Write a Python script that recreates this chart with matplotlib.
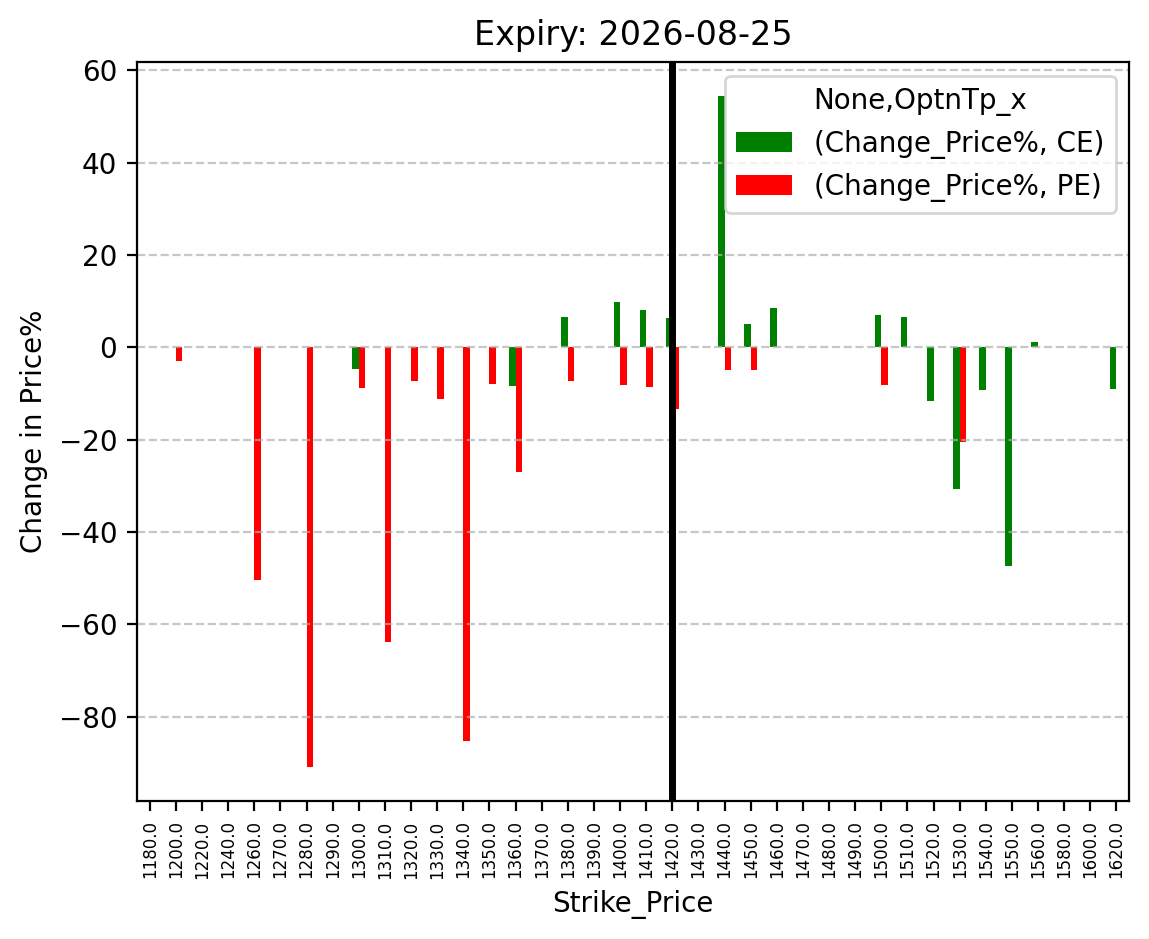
import numpy as np
import matplotlib
matplotlib.use("Agg")
import matplotlib.pyplot as plt

# strike prices (categories)
strikes = [1180, 1200, 1220, 1240, 1260, 1270, 1280, 1290, 1300, 1310,
           1320, 1330, 1340, 1350, 1360, 1370, 1380, 1390, 1400, 1410,
           1420, 1430, 1440, 1450, 1460, 1470, 1480, 1490, 1500, 1510,
           1520, 1530, 1540, 1550, 1560, 1580, 1600, 1620]

# Change_Price% for CE (calls)
ce_change = [0, 0, 0, 0, 0, 0, 0, 0, -4.8, 0,
             0, 0, 0, 0, -8.4, 0, 6.5, 0, 9.7, 8.0,
             6.3, 0, 54.5, 5.0, 8.4, 0, 0, 0, 6.9, 6.5,
             -11.7, -30.7, -9.3, -47.4, 1.1, 0, 0, -9.1]

# Change_Price% for PE (puts)
pe_change = [0, -3.0, 0, 0, -50.5, 0, -91.0, 0, -8.9, -63.9,
             -7.3, -11.3, -85.3, -8.0, -27.0, 0, -7.4, 0, -8.2, -8.7,
             -13.4, 0, -5.0, -5.0, 0, 0, 0, 0, -8.2, 0,
             0, -20.6, 0, 0, 0, 0, 0, 0]

spot_index = strikes.index(1420)

fig = plt.figure(figsize=(5.745, 4.695), dpi=200)
ax = fig.add_axes([0.119, 0.147, 0.864, 0.787])

x = np.arange(len(strikes))
w = 0.25
ax.bar(x - w / 2, ce_change, width=w, color="green", label="(Change_Price%, CE)")
ax.bar(x + w / 2, pe_change, width=w, color="red", label="(Change_Price%, PE)")
ax.set_xlim(-0.5, len(strikes) - 0.5)

ax.set_xticks(x)
ax.set_xticklabels([f"{s:.1f}" for s in strikes], rotation=90, fontsize=6)

ax.axvline(spot_index, color="black", linewidth=2.5)
ax.yaxis.grid(True, linestyle="--", alpha=0.7)

ax.set_title("Expiry: 2026-08-25")
ax.set_xlabel("Strike_Price")
ax.set_ylabel("Change in Price%")
ax.legend(title="None,OptnTp_x", loc="upper right")

fig.savefig("out.png", dpi=200)
